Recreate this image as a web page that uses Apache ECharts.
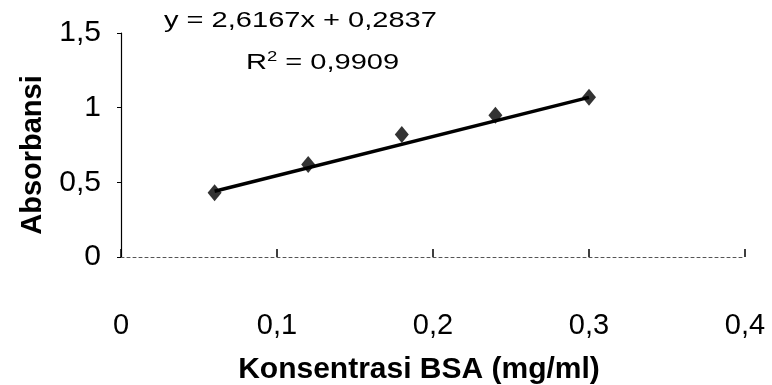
<!DOCTYPE html>
<html>
<head>
<meta charset="utf-8">
<script src="https://cdn.jsdelivr.net/npm/echarts@6/dist/echarts.min.js"></script>
<style>
html,body{margin:0;padding:0;background:#fff;}
#c{width:772px;height:385px;}
</style>
</head>
<body>
<div id="c"></div>
<script>
// Data
const concentrations = [0.06, 0.12, 0.18, 0.24, 0.30];
const absorbance = [0.43, 0.62, 0.82, 0.95, 1.07];
const slope = 2.6167;
const intercept = 0.2837;
const equationText = 'y = 2,6167x + 0,2837';
const r2Value = '0,9909';
const xTicks = [0, 0.1, 0.2, 0.3, 0.4];
const yTicks = [0, 0.5, 1, 1.5];
const xTitle = 'Konsentrasi BSA (mg/ml)';
const yTitle = 'Absorbansi';

const fmt = v => String(+v.toFixed(2)).replace('.', ',');
const points = concentrations.map((x, i) => [x, absorbance[i]]);
const xMin = Math.min(...concentrations), xMax = Math.max(...concentrations);
const trend = [[xMin, slope * xMin + intercept], [xMax, slope * xMax + intercept]];

const FONT = '"Liberation Sans", Arial, sans-serif';
const chart = echarts.init(document.getElementById('c'), null, {renderer: 'canvas'});
chart.setOption({
  backgroundColor: '#ffffff',
  animation: false,
  grid: {left: 121, right: 27, top: 33, bottom: 128, containLabel: false, outerBoundsMode: 'none'},
  xAxis: {
    type: 'value', min: xTicks[0], max: xTicks[xTicks.length - 1], interval: 0.1,
    name: xTitle, nameLocation: 'middle', nameGap: 98, nameMoveOverlap: false,
    nameTextStyle: {fontFamily: FONT, fontSize: 30, fontWeight: 'bold', color: '#000', padding: [0, 28, 0, 0]},
    axisLine: {show: true, lineStyle: {color: '#555', width: 1, type: [3, 3]}},
    axisTick: {show: true, length: 8, inside: true, lineStyle: {color: '#000', width: 1.5}},
    axisLabel: {formatter: fmt, fontFamily: FONT, fontSize: 29, color: '#000', margin: 54},
    splitLine: {show: false}
  },
  yAxis: {
    type: 'value', min: yTicks[0], max: yTicks[yTicks.length - 1], interval: 0.5,
    name: yTitle, nameLocation: 'middle', nameGap: 74, nameRotate: 90, nameMoveOverlap: false,
    nameTextStyle: {fontFamily: FONT, fontSize: 29, fontWeight: 'bold', color: '#000', padding: [0, 20, 0, 0]},
    axisLine: {show: true, lineStyle: {color: '#000', width: 1.2}},
    axisTick: {show: true, length: 4, lineStyle: {color: '#000'}},
    axisLabel: {formatter: fmt, fontFamily: FONT, fontSize: 30, color: '#000', margin: 20},
    splitLine: {show: false}
  },
  series: [
    {type: 'line', data: trend, symbol: 'none', silent: true, lineStyle: {color: '#000', width: 3.5}, z: 2},
    {type: 'scatter', data: points, symbol: 'diamond', symbolSize: [14, 17], itemStyle: {color: '#000'}, z: 3}
  ],
  graphic: [
    {type: 'text', left: 164, top: 10, scaleX: 1.32, style: {text: equationText, font: '22px ' + FONT, fill: '#000'}},
    {type: 'text', left: 246, top: 50, scaleX: 1.32,
      style: {text: '{a|R}{s|2}{a| = ' + r2Value + '}',
        rich: {a: {fontFamily: FONT, fontSize: 22, color: '#000', verticalAlign: 'bottom'},
               s: {fontFamily: FONT, fontSize: 14, color: '#000', verticalAlign: 'top', padding: [0, 0, 10, 0]}}}}
  ]
});
</script>
</body>
</html>
